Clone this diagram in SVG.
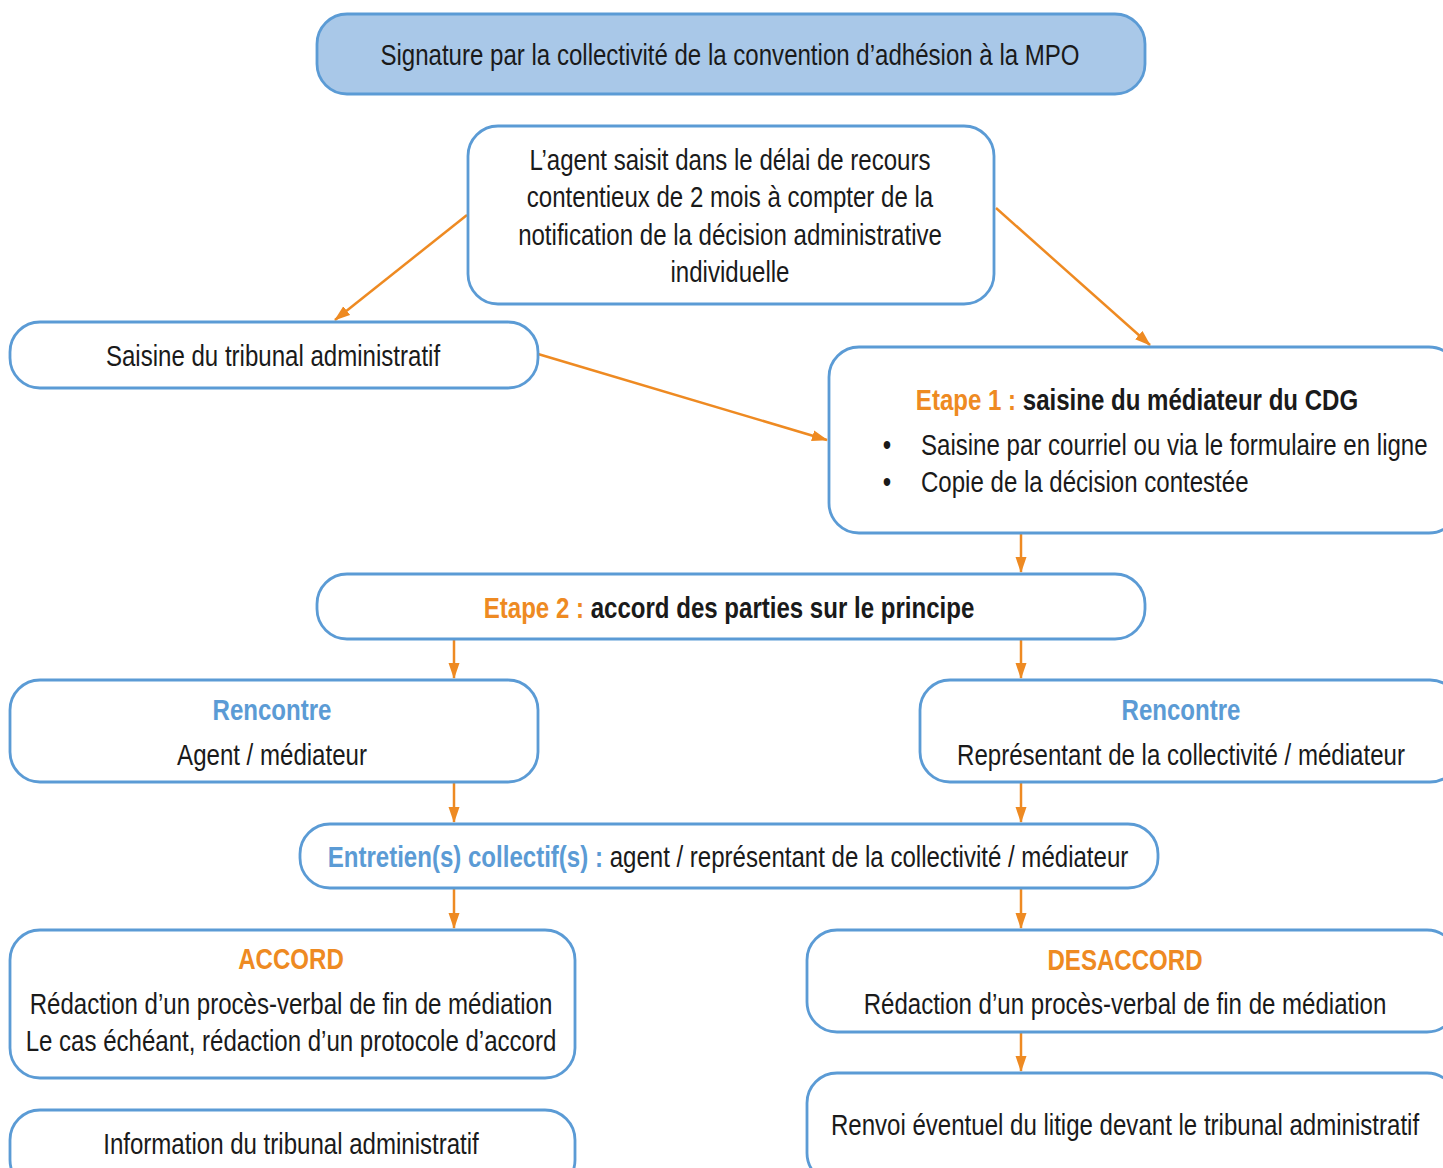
<svg xmlns="http://www.w3.org/2000/svg" width="1443" height="1168" viewBox="0 0 1443 1168">
<defs>
<marker id="ah" markerWidth="16" markerHeight="12" refX="15" refY="6" orient="auto" markerUnits="userSpaceOnUse">
<path d="M0,0.5 L16,6 L0,11.5 Z" fill="#ee8a22"/>
</marker>
<style>
.box{fill:#ffffff;stroke:#5b9bd5;stroke-width:2.8}
.top{fill:#a9c8e8;stroke:#5b9bd5;stroke-width:2.8}
text{font-family:"Liberation Sans","Arial",sans-serif;font-size:29px;fill:#1a1a1a;text-anchor:middle}
.l{text-anchor:start}
.o{fill:#ee8a22;font-weight:bold}
.b{fill:#5b9bd5;font-weight:bold}
.k{font-weight:bold}
.c{stroke:#ee8a22;stroke-width:2.5;fill:none;marker-end:url(#ah)}
</style>
</defs>
<rect width="1443" height="1168" fill="#ffffff"/>
<g id="connectors">
<line class="c" x1="467" y1="215" x2="335" y2="320"/>
<line class="c" x1="996" y1="208" x2="1150" y2="345"/>
<line class="c" x1="538" y1="354" x2="827" y2="440"/>
<line class="c" x1="1021" y1="534" x2="1021" y2="572"/>
<line class="c" x1="454" y1="640" x2="454" y2="678"/>
<line class="c" x1="1021" y1="640" x2="1021" y2="678"/>
<line class="c" x1="454" y1="783" x2="454" y2="822"/>
<line class="c" x1="1021" y1="783" x2="1021" y2="822"/>
<line class="c" x1="454" y1="889" x2="454" y2="928"/>
<line class="c" x1="1021" y1="889" x2="1021" y2="928"/>
<line class="c" x1="1021" y1="1033" x2="1021" y2="1071"/>
</g>
<g id="n-signature">
<rect class="top" x="317" y="14" width="828" height="80" rx="30"/>
<text transform="translate(730,65) scale(0.83,1)">Signature par la collectivité de la convention d’adhésion à la MPO</text>
</g>
<g id="n-agent">
<rect class="box" x="468" y="126" width="526" height="178" rx="30"/>
<text transform="translate(730,170) scale(0.83,1)">L’agent saisit dans le délai de recours</text>
<text transform="translate(730,207) scale(0.83,1)">contentieux de 2 mois à compter de la</text>
<text transform="translate(730,245) scale(0.83,1)">notification de la décision administrative</text>
<text transform="translate(730,282) scale(0.83,1)">individuelle</text>
</g>
<g id="n-tribunal">
<rect class="box" x="10" y="322" width="528" height="66" rx="30"/>
<text transform="translate(273,366) scale(0.83,1)">Saisine du tribunal administratif</text>
</g>
<g id="n-etape1">
<rect class="box" x="829" y="347" width="630" height="186" rx="30"/>
<text transform="translate(1137,410) scale(0.83,1)"><tspan class="o">Etape 1 : </tspan><tspan class="k">saisine du médiateur du CDG</tspan></text>
<text transform="translate(887,455) scale(0.83,1)">•</text>
<text class="l" transform="translate(921,455) scale(0.83,1)">Saisine par courriel ou via le formulaire en ligne</text>
<text transform="translate(887,492) scale(0.83,1)">•</text>
<text class="l" transform="translate(921,492) scale(0.83,1)">Copie de la décision contestée</text>
</g>
<g id="n-etape2">
<rect class="box" x="317" y="574" width="828" height="65" rx="30"/>
<text transform="translate(729,618) scale(0.83,1)"><tspan class="o">Etape 2 : </tspan><tspan class="k">accord des parties sur le principe</tspan></text>
</g>
<g id="n-rencontre-agent">
<rect class="box" x="10" y="680" width="528" height="102" rx="30"/>
<text class="b" transform="translate(272,720) scale(0.83,1)">Rencontre</text>
<text transform="translate(272,765) scale(0.83,1)">Agent / médiateur</text>
</g>
<g id="n-rencontre-coll">
<rect class="box" x="920" y="680" width="540" height="102" rx="30"/>
<text class="b" transform="translate(1181,720) scale(0.83,1)">Rencontre</text>
<text transform="translate(1181,765) scale(0.83,1)">Représentant de la collectivité / médiateur</text>
</g>
<g id="n-entretien">
<rect class="box" x="300" y="824" width="858" height="64" rx="30"/>
<text transform="translate(728,867) scale(0.83,1)"><tspan class="b">Entretien(s) collectif(s) : </tspan>agent / représentant de la collectivité / médiateur</text>
</g>
<g id="n-accord">
<rect class="box" x="10" y="930" width="565" height="148" rx="30"/>
<text class="o" transform="translate(291,969) scale(0.83,1)">ACCORD</text>
<text transform="translate(291,1014) scale(0.83,1)">Rédaction d’un procès-verbal de fin de médiation</text>
<text transform="translate(291,1051) scale(0.83,1)">Le cas échéant, rédaction d’un protocole d’accord</text>
</g>
<g id="n-desaccord">
<rect class="box" x="807" y="930" width="650" height="102" rx="30"/>
<text class="o" transform="translate(1125,970) scale(0.83,1)">DESACCORD</text>
<text transform="translate(1125,1014) scale(0.83,1)">Rédaction d’un procès-verbal de fin de médiation</text>
</g>
<g id="n-information">
<rect class="box" x="10" y="1110" width="565" height="80" rx="30"/>
<text transform="translate(291,1154) scale(0.83,1)">Information du tribunal administratif</text>
</g>
<g id="n-renvoi">
<rect class="box" x="807" y="1073" width="650" height="110" rx="30"/>
<text transform="translate(1125,1135) scale(0.83,1)">Renvoi éventuel du litige devant le tribunal administratif</text>
</g>
</svg>
